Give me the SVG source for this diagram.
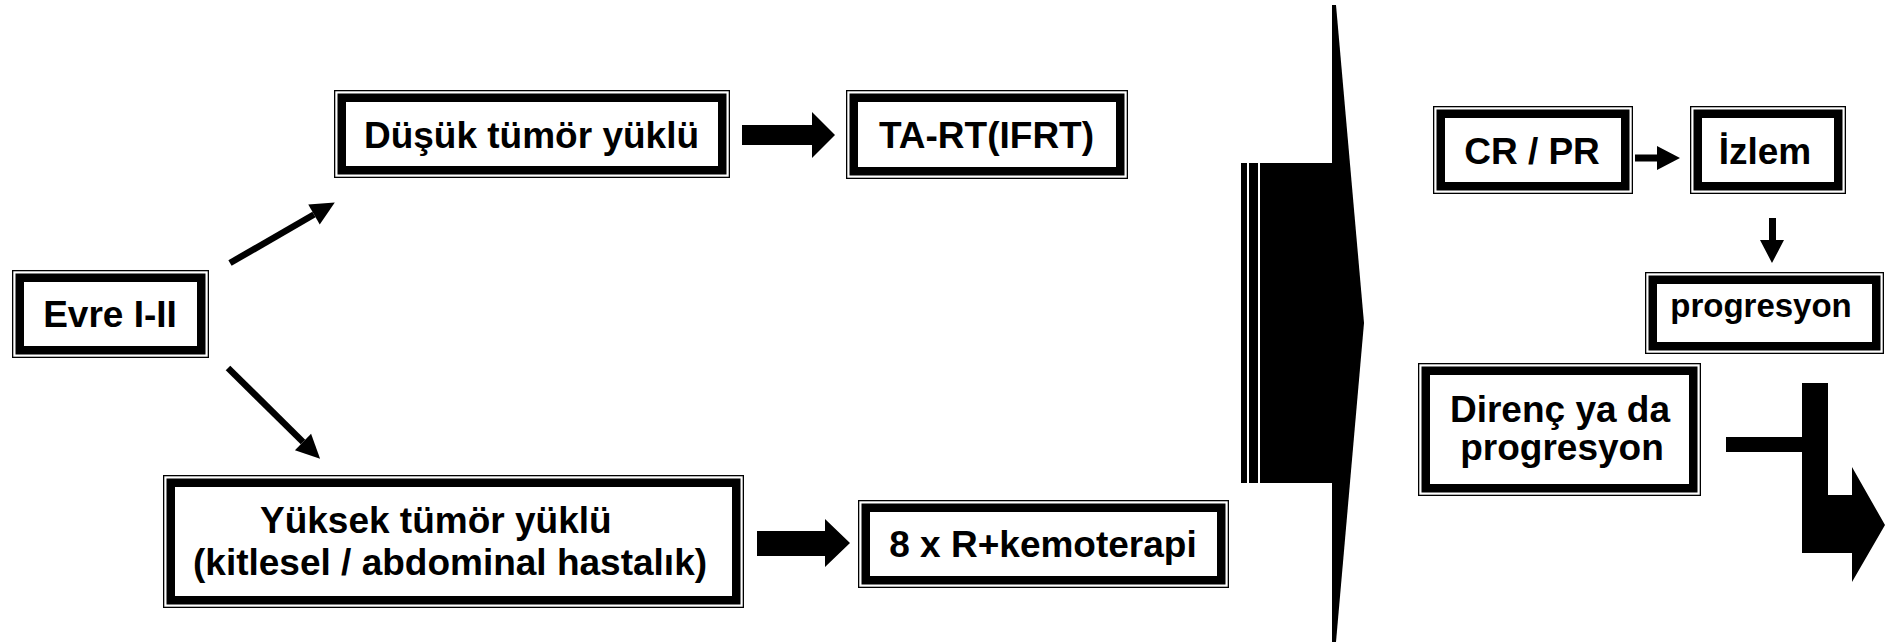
<svg xmlns="http://www.w3.org/2000/svg" width="1885" height="642" viewBox="0 0 1885 642">
<style>
.o{fill:none;stroke:#000;stroke-width:1.3}
.t{fill:#fff;stroke:#000;stroke-width:8.5}
.lb{font-family:"Liberation Sans",Arial,sans-serif;font-weight:bold;font-size:37px;fill:#000;text-anchor:middle}
.ln{stroke:#000;stroke-width:6.5;fill:none}
.blk{fill:#000;stroke:none}
</style>
<defs>
<marker id="ah" markerUnits="userSpaceOnUse" markerWidth="26" markerHeight="24" refX="0" refY="11.5" orient="auto" overflow="visible">
<path d="M0,0 L24,11.5 L0,23 z" fill="#000"/>
</marker>
</defs>
<rect width="1885" height="642" fill="#fff"/>

<g id="evre">
<rect class="o" x="12.65" y="270.65" width="195.7" height="86.7"/>
<rect class="t" x="19.75" y="277.75" width="181.5" height="72.5"/>
<text class="lb" x="110" y="327">Evre I-II</text>
</g>

<g id="dusuk">
<rect class="o" x="334.65" y="90.65" width="394.7" height="86.7"/>
<rect class="t" x="341.75" y="97.75" width="380.5" height="72.5"/>
<text class="lb" x="531.5" y="148">Düşük tümör yüklü</text>
</g>

<g id="tart">
<rect class="o" x="846.65" y="90.65" width="280.7" height="87.7"/>
<rect class="t" x="853.75" y="97.75" width="266.5" height="73.5"/>
<text class="lb" x="986.5" y="148">TA-RT(IFRT)</text>
</g>

<g id="yuksek">
<rect class="o" x="163.65" y="475.65" width="579.7" height="131.7"/>
<rect class="t" x="170.75" y="482.75" width="565.5" height="117.5"/>
<text class="lb" x="260" y="533" style="text-anchor:start">Yüksek tümör yüklü</text>
<text class="lb" x="193" y="575" style="text-anchor:start">(kitlesel / abdominal hastalık)</text>
</g>

<g id="kemo">
<rect class="o" x="858.65" y="500.65" width="369.7" height="86.7"/>
<rect class="t" x="865.75" y="507.75" width="355.5" height="72.5"/>
<text class="lb" x="1043" y="557">8 x R+kemoterapi</text>
</g>

<g id="crpr">
<rect class="o" x="1433.65" y="106.65" width="198.7" height="86.7"/>
<rect class="t" x="1440.75" y="113.75" width="184.5" height="72.5"/>
<text class="lb" x="1532" y="164">CR / PR</text>
</g>

<g id="izlem">
<rect class="o" x="1690.65" y="106.65" width="154.7" height="86.7"/>
<rect class="t" x="1697.75" y="113.75" width="140.5" height="72.5"/>
<text class="lb" x="1765" y="164">İzlem</text>
</g>

<g id="progresyon">
<rect class="o" x="1645.65" y="272.65" width="237.7" height="80.7"/>
<rect class="t" x="1652.75" y="279.75" width="223.5" height="66.5"/>
<text class="lb" x="1761" y="317" style="font-size:33px">progresyon</text>
</g>

<g id="direnc">
<rect class="o" x="1418.65" y="363.65" width="281.7" height="131.7"/>
<rect class="t" x="1425.75" y="370.75" width="267.5" height="117.5"/>
<text class="lb" x="1560" y="422">Direnç ya da</text>
<text class="lb" x="1562" y="460">progresyon</text>
</g>

<g id="connectors">
<line class="ln" x1="230" y1="263" x2="314" y2="214.5" marker-end="url(#ah)"/>
<line class="ln" x1="228" y1="368" x2="303" y2="442" marker-end="url(#ah)"/>
<polygon class="blk" points="742,125 812,125 812,112 835,135 812,158 812,145 742,145"/>
<polygon class="blk" points="757,531 825,531 825,519 850,543 825,567 825,556 757,556"/>
<polygon class="blk" points="1635,154.5 1657,154.5 1657,146 1680,158 1657,170 1657,161.5 1635,161.5"/>
<polygon class="blk" points="1769,218 1776,218 1776,240 1784,240 1772,263 1760,240 1769,240"/>
<rect class="blk" x="1726" y="437" width="77" height="15"/>
<polygon class="blk" points="1802,383 1828,383 1828,495 1852,495 1852,467 1885,525 1852,582 1852,553 1802,553"/>
<g id="bigarrow">
<rect class="blk" x="1241" y="163" width="6" height="320"/>
<rect class="blk" x="1249" y="163" width="9" height="320"/>
<rect class="blk" x="1260" y="163" width="74" height="320"/>
<polygon class="blk" points="1332,5 1336,5 1364,323 1336,642 1332,642"/>
</g>
</g>
</svg>
